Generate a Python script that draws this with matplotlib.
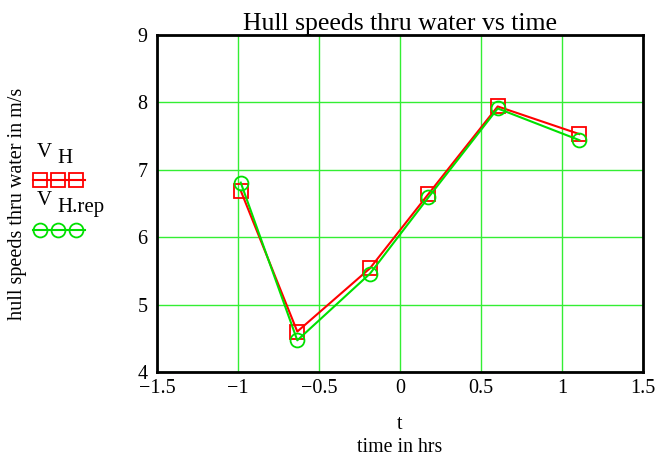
import matplotlib.pyplot as plt
from matplotlib.lines import Line2D

# data
t = [-0.983, -0.634, -0.185, 0.175, 0.603, 1.107]
v_h = [6.69, 4.60, 5.54, 6.64, 7.94, 7.53]
v_h_rep = [6.81, 4.47, 5.46, 6.59, 7.91, 7.44]

xticks = [-1.5, -1, -0.5, 0, 0.5, 1, 1.5]
xtick_labels = ["\u22121.5", "\u22121", "\u22120.5", "0", "0.5", "1", "1.5"]
yticks = [4, 5, 6, 7, 8, 9]

plt.rcParams['font.family'] = ['Liberation Serif', 'DejaVu Serif']

fig = plt.figure(figsize=(6.61, 4.57), dpi=100)
ax = fig.add_axes([0.2375, 0.186, 0.7353, 0.7374])

red = "#ff0000"
green = "#00e000"
grid = "#33ee33"

ax.plot(t, v_h, color=red, lw=1.5, marker="s", ms=10, mfc="none", mec=red, mew=1.3, zorder=3)
ax.plot(t, v_h_rep, color=green, lw=1.5, marker="o", ms=10, mfc="none", mec=green, mew=1.3, zorder=4)

ax.set_xlim(-1.5, 1.5)
ax.set_ylim(4, 9)
ax.set_xticks(xticks)
ax.set_xticklabels(xtick_labels)
ax.set_yticks(yticks)
ax.tick_params(length=0, labelsize=14.5, pad=5)
ax.tick_params(axis="y", pad=7)
ax.grid(True, color=grid, lw=1)
ax.set_axisbelow(True)
for s in ax.spines.values():
    s.set_linewidth(2)
    s.set_color("black")

ax.set_title("Hull speeds thru water vs time", fontsize=18.5, pad=2)
ax.set_xlabel("t\ntime in hrs", fontsize=14.3, labelpad=12, linespacing=1.3)
fig.text(0.027, 0.553, "hull speeds thru water in m/s", rotation=90,
         ha="center", va="center", fontsize=14.5)

# legend drawn by hand on the left
mk_x = [0.061, 0.088, 0.115]
fig.text(0.055, 0.645, "V", fontsize=15, ha="left", va="bottom")
fig.text(0.087, 0.633, "H", fontsize=15, ha="left", va="bottom")
fig.add_artist(Line2D([0.05, 0.128], [0.606, 0.606], transform=fig.transFigure, color=red, lw=1.5))
fig.add_artist(Line2D(mk_x, [0.606] * 3, transform=fig.transFigure, ls="none",
                      marker="s", ms=10, mfc="none", mec=red, mew=1.3))
fig.text(0.055, 0.540, "V", fontsize=15, ha="left", va="bottom")
fig.text(0.087, 0.525, "H.rep", fontsize=15, ha="left", va="bottom")
fig.add_artist(Line2D([0.05, 0.128], [0.497, 0.497], transform=fig.transFigure, color=green, lw=1.5))
fig.add_artist(Line2D(mk_x, [0.497] * 3, transform=fig.transFigure, ls="none",
                      marker="o", ms=10, mfc="none", mec=green, mew=1.3))

fig.savefig("out.png", dpi=100)
